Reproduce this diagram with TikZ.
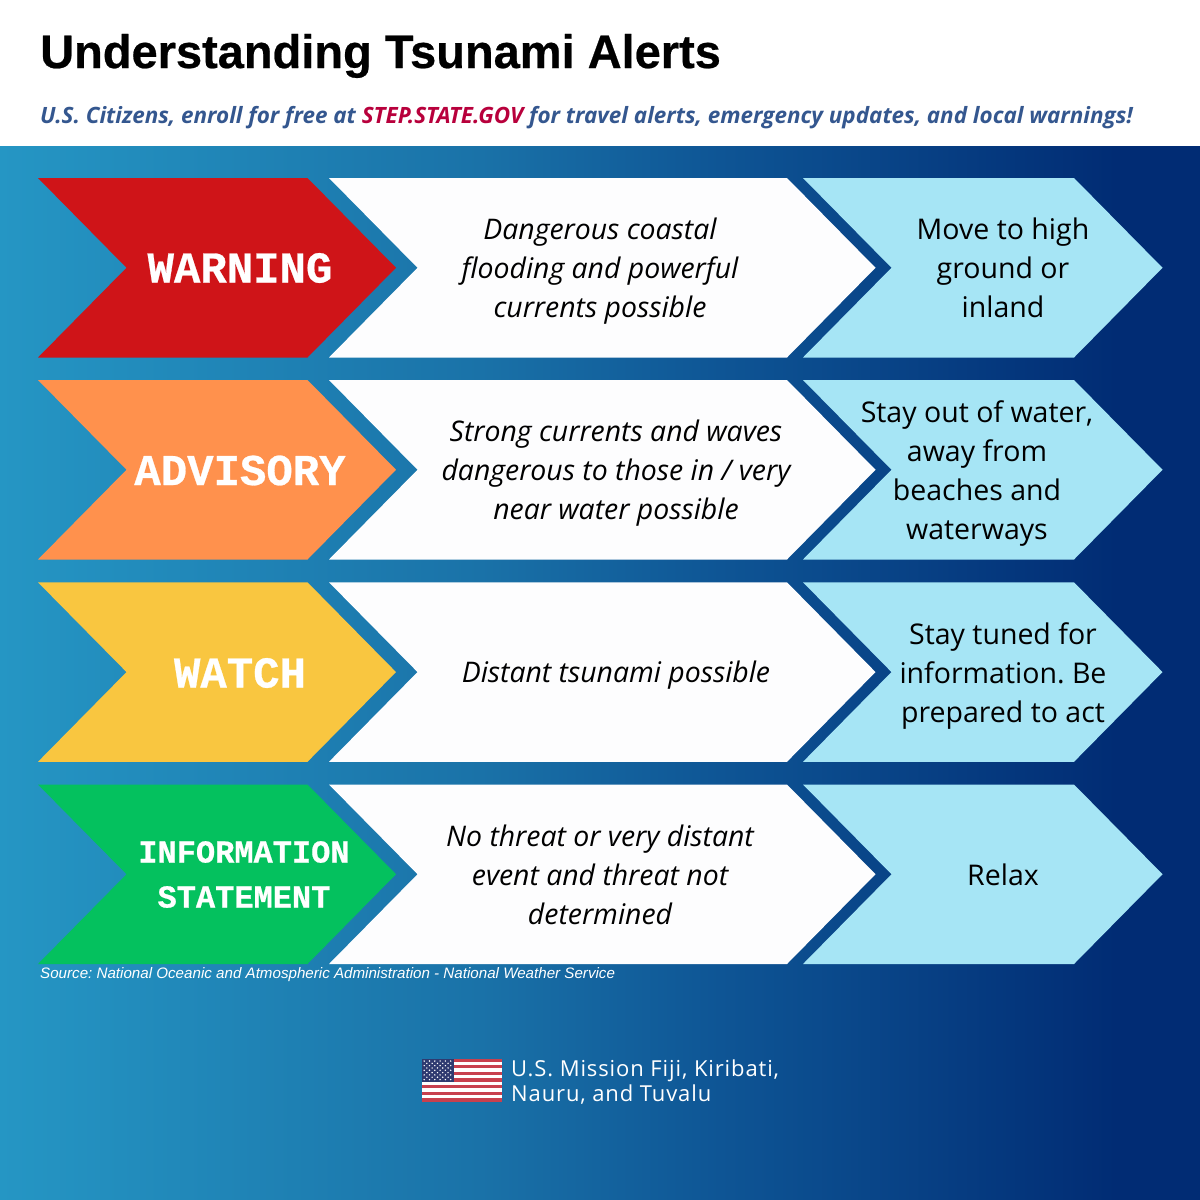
\documentclass[tikz,border=0pt]{standalone}
\usepackage{fontspec}
\setmainfont{Open Sans}
\AtBeginDocument{\frenchspacing}
\newfontfamily\titlefont[BoldFeatures={FakeBold=0.5}]{Liberation Sans}
\newfontfamily\labelfont[BoldFeatures={FakeBold=0.6}]{Liberation Mono}
\newfontfamily\sourcefont{Liberation Sans}
\newfontfamily\missionfont[LetterSpace=4]{Open Sans}
\definecolor{bgA}{HTML}{2596C4}
\definecolor{bgB}{HTML}{1A72A8}
\definecolor{bgC}{HTML}{0E5595}
\definecolor{bgD}{HTML}{012C74}
\definecolor{subblue}{HTML}{34578F}
\definecolor{subred}{HTML}{B8003C}
\definecolor{cRed}{HTML}{CF1418}
\definecolor{cOrange}{HTML}{FF914D}
\definecolor{cYellow}{HTML}{F9C640}
\definecolor{cGreen}{HTML}{04C15E}
\definecolor{cWhite}{HTML}{FDFDFE}
\definecolor{cBlue}{HTML}{A6E5F5}
\definecolor{flagRed}{HTML}{C8404E}
\definecolor{flagNavy}{HTML}{2F3A70}
\pgfdeclarehorizontalshading{bgshade}{100bp}{color(0bp)=(bgA); color(25bp)=(bgA); color(45bp)=(bgB); color(55bp)=(bgC); color(71.5bp)=(bgD); color(100bp)=(bgD)}
\newcommand{\lnst}{\rule[-13pt]{0pt}{39pt}}
\newcommand{\chev}[4]{\fill[#4] (#1,#3) -- (#2,#3) -- (#2+88.5,#3+89.75) -- (#2,#3+179.5) -- (#1,#3+179.5) -- (#1+88.5,#3+89.75) -- cycle;}
\tikzset{
  desc/.style={font=\fontsize{28.4}{39}\selectfont\itshape, text=black, align=center, inner sep=0pt},
  act/.style={font=\fontsize{28.5}{39}\selectfont, text=black, align=center, inner sep=0pt},
  lab/.style={font=\fontsize{44}{48}\selectfont\labelfont\bfseries, text=white, align=center, inner sep=0pt},
  lab small/.style={font=\fontsize{32}{45}\selectfont\labelfont\bfseries, text=white, align=center, inner sep=0pt},
}
\begin{document}
\begin{tikzpicture}[x=1pt,y=-1pt]
\useasboundingbox (0,0) rectangle (1200,1200);
\fill[white] (0,0) rectangle (1200,146);
\shade[shading=bgshade] (0,146) rectangle (1200,1200);
\node[anchor=base west, inner sep=0pt, font=\fontsize{47}{50}\selectfont\titlefont\bfseries] (title) at (40,68) {Understanding Tsunami Alerts};
\node[anchor=base west, inner sep=0pt, text=subblue, font=\fontsize{22.45}{28}\selectfont\bfseries\itshape] (sub) at (40,123) {U.S. Citizens, enroll for free at \textcolor{subred}{STEP.STATE.GOV} for travel alerts, emergency updates, and local warnings!};
% chevrons
\chev{38}{307.5}{178}{cRed}\chev{329}{787}{178}{cWhite}\chev{803}{1074}{178}{cBlue}
\chev{38}{307.5}{380}{cOrange}\chev{329}{787}{380}{cWhite}\chev{803}{1074}{380}{cBlue}
\chev{38}{307.5}{582.3}{cYellow}\chev{329}{787}{582.3}{cWhite}\chev{803}{1074}{582.3}{cBlue}
\chev{38}{307.5}{784.5}{cGreen}\chev{329}{787}{784.5}{cWhite}\chev{803}{1074}{784.5}{cBlue}
% row 1
\node[lab] (l1) at (240,268) {WARNING};
\node[desc] (d1) at (600,271.5) {\lnst Dangerous coastal\\\lnst flooding and powerful\\\lnst currents possible};
\node[act] (a1) at (1003,271.5) {\lnst Move to high\\\lnst ground or\\\lnst inland};
% row 2
\node[lab] (l2) at (240,470.5) {ADVISORY};
\node[desc] (d2) at (616,474) {\lnst Strong currents and waves\\\lnst dangerous to those in / very\\\lnst near water possible};
\node[act] (a2) at (977,474.5) {\lnst Stay out of water,\\\lnst away from\\\lnst beaches and\\\lnst waterways};
% row 3
\node[lab] (l3) at (240,673) {WATCH};
\node[desc] (d3) at (616,676) {\lnst Distant tsunami possible};
\node[act] (a3) at (1003,676.5) {\lnst Stay tuned for\\\lnst information. Be\\\lnst prepared to act};
% row 4
\node[lab small] (l4) at (244,874.5) {INFORMATION\\STATEMENT};
\node[desc] (d4) at (600,878.5) {\lnst No threat or very distant\\\lnst event and threat not\\\lnst determined};
\node[act] (a4) at (1003,878.5) {\lnst Relax};
\node[anchor=base west, inner sep=0pt, text=white, font=\fontsize{15.15}{17}\selectfont\sourcefont\itshape] (src) at (40,978) {Source: National Oceanic and Atmospheric Administration - National Weather Service};
% flag
\fill[white] (421.5,1058.5) rectangle (502,1101.7);
\foreach \i in {0,2,4,6,8,10,12}
  \fill[flagRed] (421.5,1058.5+\i*3.323) rectangle (502,1058.5+\i*3.323+3.323);
\fill[flagNavy] (421.5,1058.5) rectangle (453.5,1081.8);
\foreach \r in {0,2,4,6,8}
  \foreach \c in {0,...,5}
    \fill[white] (424.2+\c*5.3,1061+\r*2.32) circle (0.8);
\foreach \r in {1,3,5,7}
  \foreach \c in {0,...,4}
    \fill[white] (426.85+\c*5.3,1061+\r*2.32) circle (0.8);
\node[anchor=base west, inner sep=0pt, text=white, align=left, font=\fontsize{22}{25}\selectfont\missionfont] (mission) at (511,1076) {U.S. Mission Fiji, Kiribati,};
\node[anchor=base west, inner sep=0pt, text=white, align=left, font=\fontsize{22}{25}\selectfont\missionfont] (mission2) at (511,1101) {Nauru, and Tuvalu};
\end{tikzpicture}
\end{document}
